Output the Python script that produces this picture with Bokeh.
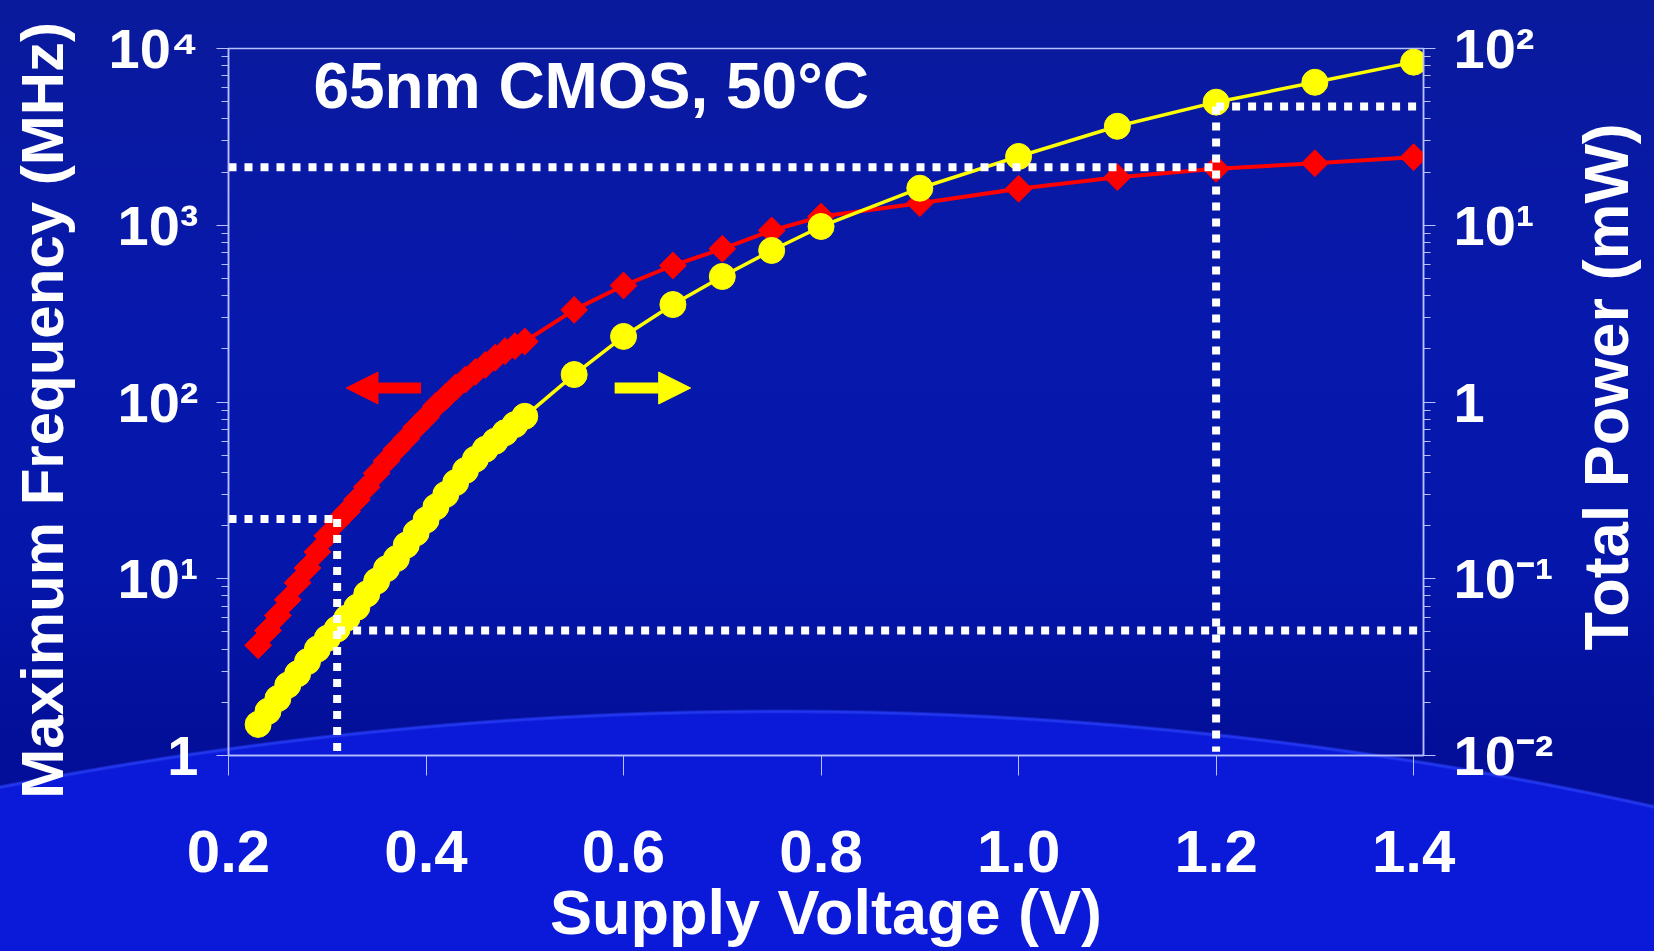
import math
from bokeh.plotting import figure
from bokeh.models import (Range1d, LogScale, LogAxis, FixedTicker, Label, Arrow,
                          NormalHead, ColumnDataSource, NumeralTickFormatter)
from bokeh.embed import file_html
from bokeh.resources import INLINE

# ---------------- data ----------------
voltage = [0.23, 0.24, 0.25, 0.26, 0.27, 0.28, 0.29, 0.30, 0.31, 0.32,
           0.33, 0.34, 0.35, 0.36, 0.37, 0.38, 0.39, 0.40, 0.41, 0.42,
           0.43, 0.44, 0.45, 0.46, 0.47, 0.48, 0.49, 0.50,
           0.55, 0.60, 0.65, 0.70, 0.75, 0.80, 0.90, 1.00, 1.10, 1.20, 1.30, 1.40]
freq_mhz = [4.2, 5.1, 6.2, 7.6, 9.5, 11.5, 14.2, 17.5, 21, 24,
            28, 33, 39.5, 46.5, 54, 62, 72, 82, 95, 107,
            121, 134, 148, 162, 178, 194, 207, 220,
            332, 456, 592, 736, 934, 1120, 1333, 1608, 1871, 2086, 2244, 2427]
power_mw = [0.0150, 0.0178, 0.021, 0.025, 0.029, 0.034, 0.040, 0.046, 0.052, 0.060,
            0.069, 0.082, 0.097, 0.114, 0.130, 0.155, 0.182, 0.215, 0.255, 0.300,
            0.350, 0.410, 0.475, 0.540, 0.600, 0.670, 0.745, 0.830,
            1.43, 2.35, 3.56, 5.13, 7.2, 9.84, 16.2, 24.5, 36.3, 49.7, 64.4, 83.7]

# dotted guide lines: (voltage, frequency on left axis, power on right axis)
guide_v = [0.31, 1.2]
guide_freq = [21.8, 2130]
guide_power = [0.051, 47]

x_ticks = [0.2, 0.4, 0.6, 0.8, 1.0, 1.2, 1.4]
freq_ticks = [1, 10, 100, 1000, 10000]
freq_labels = ["1", "10\u00b9", "10\u00b2", "10\u00b3", "10\u2074"]
power_ticks = [0.01, 0.1, 1, 10, 100]
power_labels = ["10\u207b\u00b2", "10\u207b\u00b9", "1", "10\u00b9", "10\u00b2"]

X_MIN, X_MAX = 0.2, 1.41
FONT = "Liberation Sans"
AXIS_COL = "#b8c0ff"
NBSP = "\u00a0"

def minor_of(majors):
    out = []
    for m in majors[:-1]:
        for k in range(2, 10):
            out.append(m * k)
    return out

p = figure(width=1654, height=951, x_range=Range1d(X_MIN, X_MAX),
           y_range=Range1d(1, 1e4), y_axis_type="log",
           output_backend="svg", toolbar_location=None, tools="",
           min_border_left=228, min_border_right=231,
           min_border_top=48, min_border_bottom=196)
p.extra_y_ranges = {"power": Range1d(0.01, 100)}
p.extra_y_scales = {"power": LogScale()}

p.background_fill_color = None
p.border_fill_color = None
p.outline_line_color = AXIS_COL
p.outline_line_width = 1.5
p.xgrid.visible = False
p.ygrid.visible = False
p.styles = {
    "background": (
        "radial-gradient(circle 4055px at 780px 4765px, #0a1ad8 4051px, #2236ee 4053px, "
        "#2236ee 4054px, rgba(0,0,0,0) 4056px), "
        "linear-gradient(180deg, #0a1a9c 0%, #0718ad 35%, #0516ab 60%, #030f98 78%, #030f98 100%)"
    )
}

def style_title(ax, text, size, standoff):
    ax.axis_label = text
    ax.axis_label_text_font = FONT
    ax.axis_label_text_font_style = "bold"
    ax.axis_label_text_font_size = size
    ax.axis_label_text_color = "white"
    ax.axis_label_standoff = standoff

# x axis
xa = p.xaxis[0]
xa.ticker = FixedTicker(ticks=x_ticks)
xa.formatter = NumeralTickFormatter(format="0.0")
xa.axis_line_color = AXIS_COL
xa.axis_line_width = 1.5
xa.major_tick_line_color = AXIS_COL
xa.major_tick_out = 20
xa.major_tick_in = 0
xa.minor_tick_line_color = None
xa.major_label_text_font = FONT
xa.major_label_text_font_style = "bold"
xa.major_label_text_font_size = "60px"
xa.major_label_text_color = "white"
xa.major_label_standoff = 55
style_title(xa, "Supply Voltage (V)", "63px", 2)

def style_y(ax, ticks, labels, standoff):
    ax.ticker = FixedTicker(ticks=ticks, minor_ticks=minor_of(ticks))
    ax.major_label_overrides = dict(zip(ticks, labels))
    ax.axis_line_color = AXIS_COL
    ax.axis_line_width = 1.5
    ax.major_tick_line_color = AXIS_COL
    ax.minor_tick_line_color = AXIS_COL
    ax.major_tick_out = 12
    ax.major_tick_in = 0
    ax.minor_tick_out = 7
    ax.minor_tick_in = 0
    ax.major_label_text_font = FONT
    ax.major_label_text_font_style = "bold"
    ax.major_label_text_font_size = "56px"
    ax.major_label_text_color = "white"
    ax.major_label_standoff = standoff

ya = p.yaxis[0]
style_y(ya, freq_ticks, freq_labels, 18)
style_title(ya, "Maximum Frequency (MHz)" + NBSP, "60px", 30)

ra = LogAxis(y_range_name="power")
style_y(ra, power_ticks, power_labels, 18)
props = ra.properties()
if "axis_label_orientation" in props and "axis_label_align" in props:
    style_title(ra, NBSP * 6 + "Total Power (mW)\n", "63px", 15)
    ra.axis_label_text_line_height = -1.0
    ra.axis_label_orientation = math.pi / 2
    ra.axis_label_align = "start"
else:
    style_title(ra, "Total Power (mW)", "62px", 15)
p.add_layout(ra, "right")

src = ColumnDataSource(dict(v=voltage, f=freq_mhz, pw=power_mw))

# frequency (red diamonds)
p.line("v", "f", source=src, line_color="#ff0000", line_width=4)
p.scatter("v", "f", source=src, marker="square", angle=math.pi / 4, size=19,
          fill_color="#ff0000", line_color="#ff0000")
# power (yellow circles)
p.line("v", "pw", source=src, y_range_name="power", line_color="#ffff00", line_width=3.5)
p.scatter("v", "pw", source=src, y_range_name="power", marker="circle", size=26,
          fill_color="#ffff00", line_color="#ffff00")

# dotted guides
dot = dict(line_color="white", line_width=8, line_dash="8 8", line_cap="butt")
p.segment(x0=[X_MIN, X_MIN], y0=guide_freq, x1=guide_v, y1=guide_freq, **dot)
p.segment(x0=guide_v, y0=guide_power, x1=[X_MAX, X_MAX], y1=guide_power,
          y_range_name="power", **dot)
p.segment(x0=[guide_v[0]], y0=[guide_freq[0]], x1=[guide_v[0]], y1=[1.05], **dot)
p.segment(x0=[guide_v[1]], y0=[guide_power[1]], x1=[guide_v[1]], y1=[0.0105],
          y_range_name="power", **dot)

# arrows pointing to their axes
p.add_layout(Arrow(end=NormalHead(size=32, fill_color="#ff0000", line_color="#ff0000"),
                   x_start=0.395, y_start=120, x_end=0.319, y_end=120,
                   line_color="#ff0000", line_width=11))
p.add_layout(Arrow(end=NormalHead(size=32, fill_color="#ffff00", line_color="#ffff00"),
                   x_start=0.591, y_start=1.2, x_end=0.668, y_end=1.2, y_range_name="power",
                   line_color="#ffff00", line_width=11))

# in-plot title
p.add_layout(Label(x=0.286, y=6170, text="65nm CMOS, 50\u00b0C", text_font_size="64px",
                   text_align="left", text_baseline="alphabetic", text_font=FONT,
                   text_font_style="bold", text_color="white"))

open("out.html", "w").write(file_html(p, INLINE))
